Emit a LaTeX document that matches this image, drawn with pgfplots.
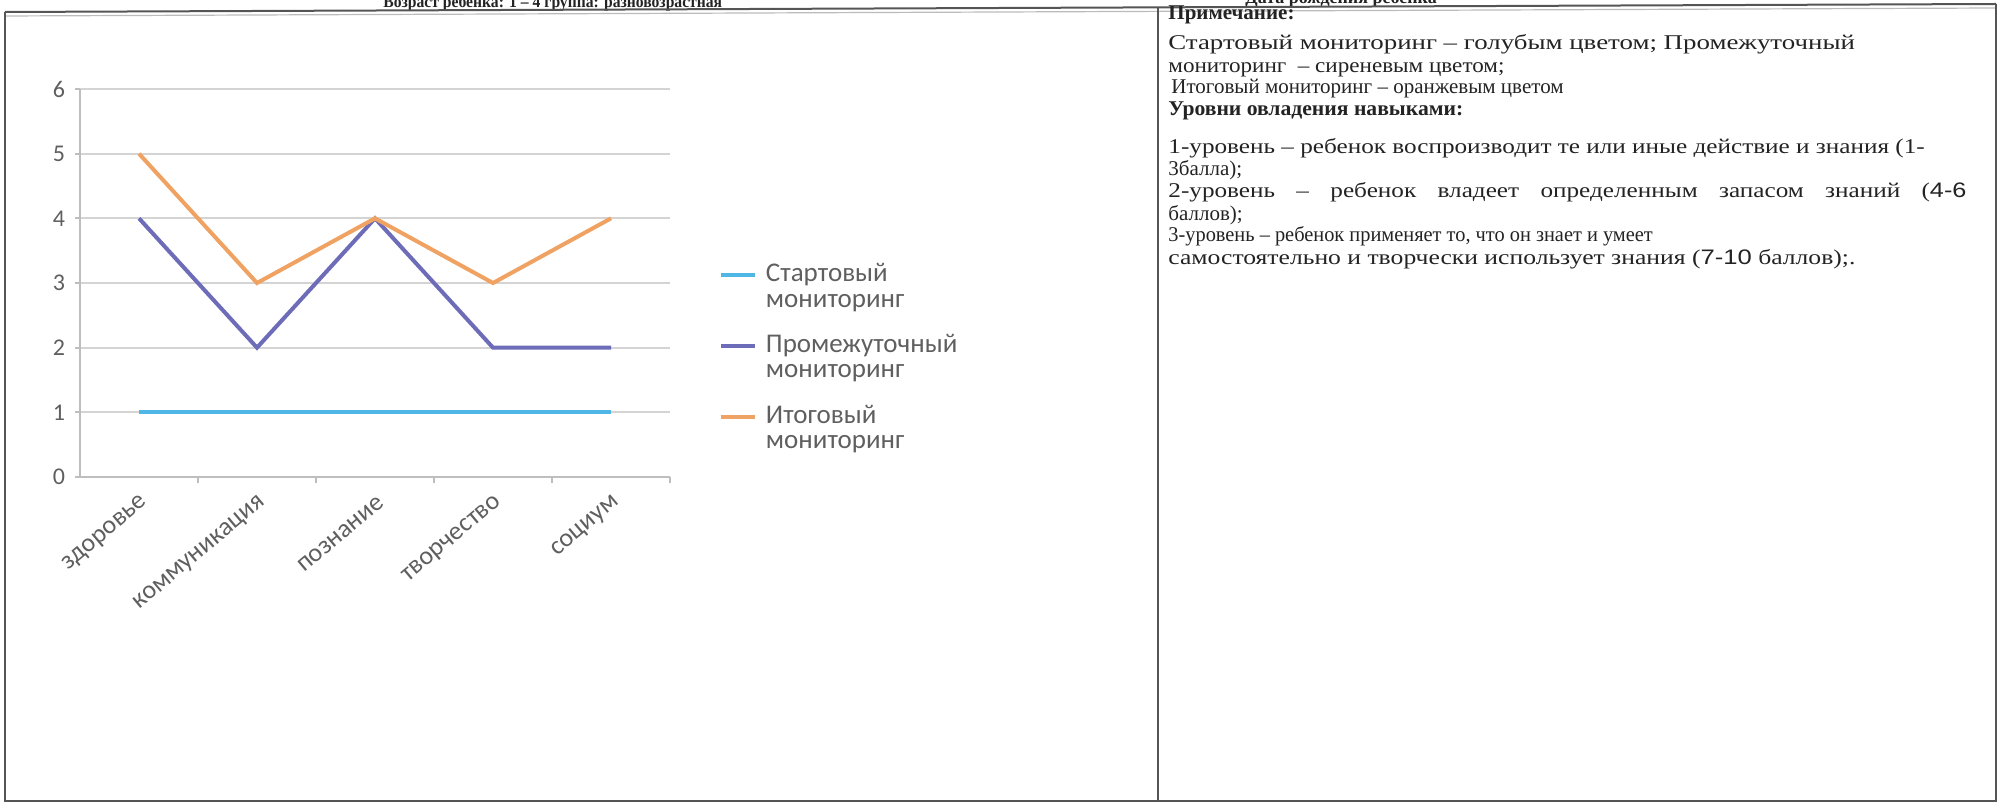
\documentclass[border=0pt]{standalone}
\usepackage{fontspec}
\setmainfont{Liberation Serif}
\setsansfont{Liberation Sans}
\newfontfamily\chartfont{Carlito}
\usepackage{pgfplots}
\pgfplotsset{compat=1.18}
\definecolor{cStart}{RGB}{80,182,230}
\definecolor{cMid}{RGB}{108,108,185}
\definecolor{cEnd}{RGB}{240,162,98}
\definecolor{cGrid}{RGB}{212,212,212}
\definecolor{cAx}{RGB}{190,190,190}
\definecolor{cTxt}{RGB}{95,95,95}
\definecolor{cFrame}{RGB}{85,85,85}
\definecolor{cInk}{RGB}{35,35,35}

\pgfplotstableread{
x start mid end
0 1 4 5
1 1 2 3
2 1 4 4
3 1 2 3
4 1 2 4
}\monitoring

\begin{document}
\begin{tikzpicture}[x=0.5pt,y=-0.5pt]
\useasboundingbox (0,0) rectangle (2002,806);
\begin{scope}
\clip (0,0) rectangle (2002,806);
\node[font=\bfseries\fontsize{8.5}{10}\selectfont, text=cInk, anchor=base west, inner sep=0pt] at (383,8) {\scalebox{0.92}[1]{Возраст ребенка: 1 – 4 группа: разновозрастная}};
\node[font=\bfseries\fontsize{9}{11}\selectfont, text=cInk, anchor=base west, inner sep=0pt] at (1245,4) {Дата рождения ребенка};
\end{scope}
% frame
\draw[cFrame, line width=1pt] (5,12) -- (1996,4);
\draw[cFrame!40, line width=0.6pt] (5,16) -- (1996,8);
\draw[cFrame, line width=1pt] (5,12) -- (5,801) -- (1996,801) -- (1996,4);
\draw[cFrame, line width=1pt] (1158,7) -- (1158,801);

% right panel text
\begin{scope}[every node/.style={anchor=base west, inner sep=0pt, text=cInk, font=\fontsize{10.5}{12}\selectfont}]
\node[font=\bfseries\fontsize{10.5}{12}\selectfont] at (1168,20) {Примечание:};
\node at (1168,50) {\scalebox{1.28}[1]{Стартовый мониторинг – голубым цветом; Промежуточный}};
\node at (1168,73) {\scalebox{1.1}[1]{мониторинг \ – сиреневым цветом;}};
\node at (1171,94) {Итоговый мониторинг – оранжевым цветом};
\node[font=\bfseries\fontsize{10.5}{12}\selectfont] at (1168,116) {\scalebox{1.03}[1]{Уровни овладения навыками:}};
\node at (1168,154) {\scalebox{1.2}[1]{1-уровень – ребенок воспроизводит те или иные действие и знания (1-}};
\node at (1168,176) {3балла);};
\node at (1168,198) {\scalebox{1.2}[1]{\makebox[332.5pt][s]{2-уровень – ребенок владеет определенным запасом знаний ({\sffamily 4-6}}}};
\node at (1168,221) {баллов);};
\node at (1168,242) {\scalebox{0.97}[1]{3-уровень – ребенок применяет то, что он знает и умеет}};
\node at (1168,265) {\scalebox{1.22}[1]{самостоятельно и творчески использует знания ({\sffamily 7-10} баллов);.}};
\end{scope}

\begin{axis}[
  at={(40pt,-238.5pt)}, anchor=south west,
  scale only axis, width=295pt, height=194pt,
  xmin=-0.5, xmax=4.5, ymin=0, ymax=6,
  axis x line*=bottom, axis y line*=left,
  axis line style={draw=cAx, line width=1pt},
  ytick={0,1,2,3,4,5,6},
  ymajorgrids, grid style={cGrid, line width=1pt},
  xtick={0,1,2,3,4},
  xticklabels={здоровье,коммуникация,познание,творчество,социум},
  minor xtick={0.5,1.5,2.5,3.5,4.5},
  every major x tick/.style={draw=none},
  tick align=outside,
  major tick length=2.5pt, minor tick length=3pt,
  tick style={cAx, line width=1pt},
  /pgf/number format/assume math mode=true,
  yticklabel style={font=\chartfont\fontsize{12}{14}\selectfont, text=cTxt, anchor=east, xshift=-1.5pt},
  xticklabel style={font=\chartfont\fontsize{13}{15}\selectfont, text=cTxt, anchor=east, rotate=40, yshift=-9pt, xshift=0pt},
  legend cell align=left,
  legend style={at={(rel axis cs:1.083,0.55)}, anchor=north west, draw=none, fill=none,
    inner sep=0pt, outer sep=0pt, row sep=12pt, column sep=4.5pt,
    nodes={inner sep=0pt, align=left, text=cTxt, font=\chartfont\fontsize{13.5}{12.7}\selectfont}},
  legend image code/.code={\draw[#1] (0pt,5.8pt) -- (17pt,5.8pt);},
  every axis plot/.append style={line width=2pt, mark=none},
]
\addplot[cStart] table[x=x, y=start] {\monitoring};
\addlegendentry{Стартовый\\мониторинг}
\addplot[cMid] table[x=x, y=mid] {\monitoring};
\addlegendentry{Промежуточный\\мониторинг}
\addplot[cEnd] table[x=x, y=end] {\monitoring};
\addlegendentry{Итоговый\\мониторинг}
\end{axis}
\end{tikzpicture}
\end{document}
